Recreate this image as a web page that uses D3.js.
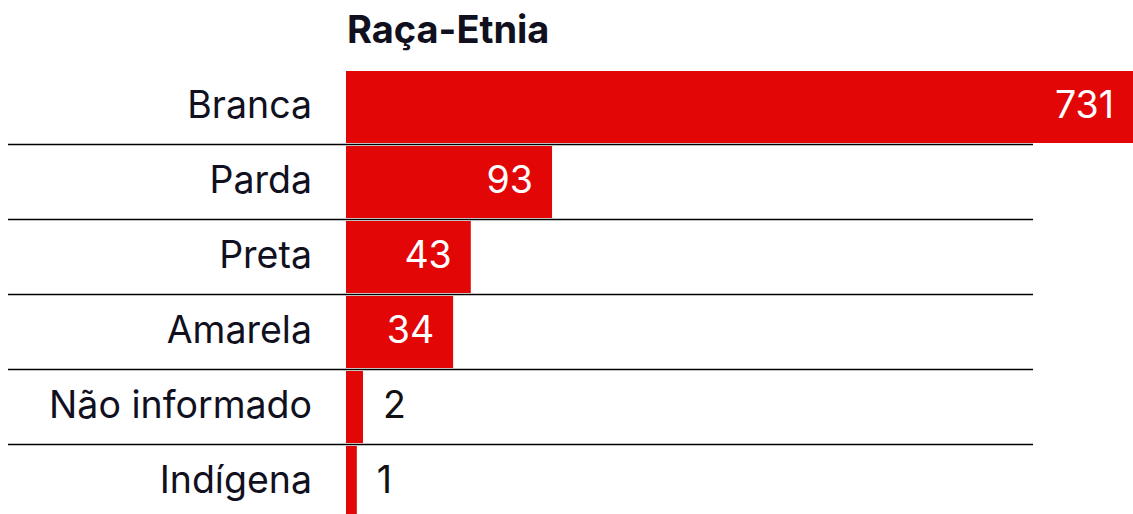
<!DOCTYPE html>
<html>
<head>
<meta charset="utf-8">
<script src="https://cdn.jsdelivr.net/npm/d3@7"></script>
<style>
  html, body { margin: 0; padding: 0; background: #fff; }
  #chart text { font-family: Inter, "Noto Sans", sans-serif; }
</style>
</head>
<body>
<div id="chart"></div>
<script>
/* global d3 */

var categories = ['Branca', 'Parda', 'Preta', 'Amarela', 'Não informado', 'Indígena'];
var values = [731, 93, 43, 34, 2, 1];
var title = 'Raça-Etnia';

var WIDTH = 1133;
var HEIGHT = 514;
var BAR_LEFT = 346;
var BAR_COLOR = '#e30606';
var TEXT_COLOR = '#10101e';
var FONT_SIZE = 37.5;

var rows = categories.map(function(c, i) {
  return { label: c, value: values[i] };
});

var svg = d3.select('#chart')
  .append('svg')
  .attr('width', WIDTH)
  .attr('height', HEIGHT)
;

// bars are compressed, the small counts still get a visible bar
var x = d3.scalePow()
  .exponent(0.65)
  .domain([0, d3.max(values)])
  .range([0, WIDTH - BAR_LEFT])
;

var y = d3.scaleBand()
  .domain(categories)
  .range([71, 71 + categories.length * 75 - 3])
  .paddingInner(0.04)
  .paddingOuter(0)
;

svg.append('text')
  .attr('x', BAR_LEFT + 1)
  .attr('y', 43)
  .attr('fill', TEXT_COLOR)
  .attr('font-size', 38)
  .attr('font-weight', 700)
  .text(title)
;

var row = svg.selectAll('.row').data(rows)
  .enter()
  .append('g').classed('row', true)
  .attr('transform', function(d) { return 'translate(0,' + y(d.label) + ')'; })
;

row.append('rect')
  .attr('x', BAR_LEFT)
  .attr('y', 0)
  .attr('height', y.bandwidth())
  .attr('width', function(d) { return x(d.value); })
  .attr('fill', BAR_COLOR)
;

row.append('text')
  .attr('x', BAR_LEFT - 34)
  .attr('y', y.bandwidth() / 2 + 10.5)
  .attr('text-anchor', 'end')
  .attr('font-size', FONT_SIZE)
  .attr('fill', TEXT_COLOR)
  .text(function(d) { return d.label; })
;

function inside(d) {
  return x(d.value) > 60;
}

row.append('text')
  .attr('x', function(d) {
    return inside(d) ? BAR_LEFT + x(d.value) - 19 : BAR_LEFT + x(d.value) + 20;
  })
  .attr('y', y.bandwidth() / 2 + 10.5)
  .attr('text-anchor', function(d) { return inside(d) ? 'end' : 'start'; })
  .attr('font-size', FONT_SIZE)
  .attr('fill', function(d) { return inside(d) ? '#fff' : '#111'; })
  .text(function(d) { return d.value; })
;

// separators between rows
svg.selectAll('.sep').data(categories.slice(0, -1))
  .enter()
  .append('line').classed('sep', true)
  .attr('x1', 8)
  .attr('x2', 1033)
  .attr('y1', function(c) { return y(c) + y.bandwidth() + 1.5; })
  .attr('y2', function(c) { return y(c) + y.bandwidth() + 1.5; })
  .attr('stroke', '#000')
  .attr('stroke-width', 1.6)
;
</script>
</body>
</html>
